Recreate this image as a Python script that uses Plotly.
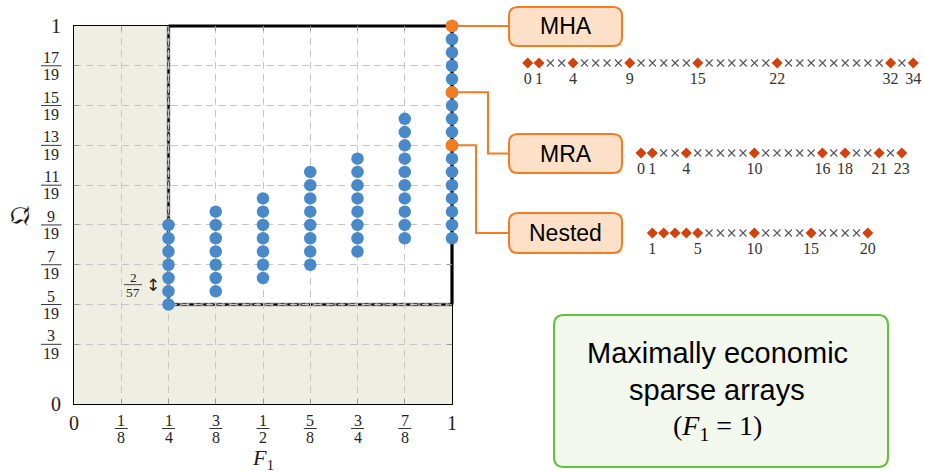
import plotly.graph_objects as go

# ---------------- data ----------------
F1_VALUES = [1/4, 3/8, 1/2, 5/8, 3/4, 7/8, 1]
Q_DEN = 57
# numerators (over 57) of the Q value of every dot in each F1 column
Q_NUMERATORS = [
    [15, 17, 19, 21, 23, 25, 27],
    [17, 19, 21, 23, 25, 27, 29],
    [19, 21, 23, 25, 27, 29, 31],
    [21, 23, 25, 27, 29, 31, 33, 35],
    [23, 25, 27, 29, 31, 33, 35, 37],
    [25, 27, 29, 31, 33, 35, 37, 39, 41, 43],
    [25, 27, 29, 31, 33, 35, 37, 39, 41, 43, 45, 47, 49, 51, 53, 55, 57],
]
HIGHLIGHT_NAMES = ["MHA", "MRA", "Nested"]
HIGHLIGHT_F1 = [1, 1, 1]
HIGHLIGHT_QNUM = [57, 47, 39]

X_TICKS = [0, 1/8, 1/4, 3/8, 1/2, 5/8, 3/4, 7/8, 1]
X_TICK_LABELS = ["0", "1/8", "1/4", "3/8", "1/2", "5/8", "3/4", "7/8", "1"]
Y_TICKS = [0, 3/19, 5/19, 7/19, 9/19, 11/19, 13/19, 15/19, 17/19, 1]
Y_TICK_LABELS = ["0", "3/19", "5/19", "7/19", "9/19", "11/19", "13/19", "15/19", "17/19", "1"]

F1_MIN = 1/4
Q_MIN = 5/19
STEP_LABEL = "2/57"
STEP_LOW, STEP_HIGH = 17/57, 19/57

MHA_LENGTH = 35
MHA_SENSORS = [0, 1, 4, 9, 15, 22, 32, 34]
MHA_LABELS = [0, 1, 4, 9, 15, 22, 32, 34]
MRA_LENGTH = 24
MRA_SENSORS = [0, 1, 4, 10, 16, 18, 21, 23]
MRA_LABELS = [0, 1, 4, 10, 16, 18, 21, 23]
NESTED_START, NESTED_LENGTH = 1, 20
NESTED_SENSORS = [1, 2, 3, 4, 5, 10, 15, 20]
NESTED_LABELS = [1, 5, 10, 15, 20]

# ---------------- layout helpers ----------------
W, H = 925, 472
ML, MR, MT, MB = 74, 5, 26, 68
PW, PH = W - ML - MR, H - MT - MB
XD = 378 / PW  # main x-domain end


def ux(p):
    return (p - ML) / PW


def vy(p):
    return (H - MB - p) / PH


def dx(v):  # main-data x -> paper
    return v * XD


SERIF = "Liberation Serif"
SANS = "Liberation Sans"
BLUE = "#4a89c9"
ORANGE = "#f47b20"
BEIGE = "#efeee3"
INK = "#1e1e1e"
FRAC_SIZE = 16

fig = go.Figure()
shapes = []
ann = []


def add_ann(**kw):
    kw.setdefault("showarrow", False)
    kw.setdefault("xanchor", "center")
    kw.setdefault("yanchor", "middle")
    ann.append(kw)


# backgrounds
shapes.append(dict(type="rect", xref="paper", yref="paper", x0=0, x1=dx(1), y0=0, y1=1,
                   fillcolor=BEIGE, line_width=0, layer="below"))
shapes.append(dict(type="rect", xref="paper", yref="paper", x0=dx(F1_MIN), x1=dx(1), y0=Q_MIN, y1=1,
                   fillcolor="white", line_width=0, layer="below"))
# region outline
for (x0, y0, x1, y1) in [(F1_MIN, Q_MIN, F1_MIN, 1), (F1_MIN, Q_MIN, 1, Q_MIN)]:
    shapes.append(dict(type="line", xref="paper", yref="paper", x0=dx(x0), x1=dx(x1), y0=y0, y1=y1,
                       line=dict(color="#8a8a8a", width=3.5), layer="below"))
    shapes.append(dict(type="line", xref="paper", yref="paper", x0=dx(x0), x1=dx(x1), y0=y0, y1=y1,
                       line=dict(color="black", width=2, dash="4px,3px"), layer="below"))
for (x0, y0, x1, y1) in [(F1_MIN, 1, 1, 1), (1, Q_MIN, 1, 1)]:
    shapes.append(dict(type="line", xref="paper", yref="paper", x0=dx(x0), x1=dx(x1), y0=y0, y1=y1,
                       line=dict(color="black", width=3.2), layer="below"))

# dots
xs, ys = [], []
for f, nums in zip(F1_VALUES, Q_NUMERATORS):
    for n in nums:
        xs.append(f)
        ys.append(n / Q_DEN)
fig.add_trace(go.Scatter(x=xs, y=ys, mode="markers", cliponaxis=False,
                         marker=dict(size=12.5, color=BLUE, line_width=0), hoverinfo="skip"))
fig.add_trace(go.Scatter(x=HIGHLIGHT_F1, y=[n / Q_DEN for n in HIGHLIGHT_QNUM], mode="markers",
                         cliponaxis=False, marker=dict(size=12.5, color=ORANGE, line_width=0),
                         hoverinfo="skip"))

# ---------- tick labels (stacked fractions) ----------
for t, lab in zip(X_TICKS, X_TICK_LABELS):
    if "/" in lab:
        a, b = lab.split("/")
        add_ann(x=t, xref="x", y=vy(420), yref="paper", text=a,
                font=dict(family=SERIF, size=FRAC_SIZE, color=INK))
        add_ann(x=t, xref="x", y=vy(437.5), yref="paper", text=b,
                font=dict(family=SERIF, size=FRAC_SIZE, color=INK))
        shapes.append(dict(type="line", xref="x", xsizemode="pixel", xanchor=t, x0=-6.5, x1=6.5,
                           yref="paper", y0=vy(428.5), y1=vy(428.5), line=dict(color=INK, width=0.9)))
    else:
        add_ann(x=t, xref="x", y=vy(423), yref="paper", text=lab,
                font=dict(family=SERIF, size=20, color=INK))

for t, lab in zip(Y_TICKS, Y_TICK_LABELS):
    if "/" in lab:
        a, b = lab.split("/")
        add_ann(x=ux(51), xref="paper", y=t, yref="y", yshift=8.5, text=a,
                font=dict(family=SERIF, size=FRAC_SIZE, color=INK))
        add_ann(x=ux(51), xref="paper", y=t, yref="y", yshift=-8.7, text=b,
                font=dict(family=SERIF, size=FRAC_SIZE, color=INK))
        shapes.append(dict(type="line", xref="paper", x0=ux(41), x1=ux(61.5), yref="y", y0=t, y1=t,
                           line=dict(color=INK, width=0.9)))
    else:
        add_ann(x=ux(63), xref="paper", y=t, yref="y", text=lab, xanchor="right",
                font=dict(family=SERIF, size=20, color=INK))

# step label 2/57 with arrow
sa, sb = STEP_LABEL.split("/")
ymid = (STEP_LOW + STEP_HIGH) / 2
add_ann(x=F1_MIN, xref="x", xshift=-35.5, y=ymid, yref="y", yshift=6.8, text=sa,
        font=dict(family=SERIF, size=13.5, color=INK))
add_ann(x=F1_MIN, xref="x", xshift=-35.5, y=ymid, yref="y", yshift=-7.5, text=sb,
        font=dict(family=SERIF, size=13.5, color=INK))
shapes.append(dict(type="line", xref="x", xsizemode="pixel", xanchor=F1_MIN, x0=-44.5, x1=-26.5,
                   yref="y", y0=ymid, y1=ymid, line=dict(color=INK, width=0.8)))
add_ann(x=F1_MIN, xref="x", xshift=-15.5, y=ymid, yref="y", text="↕",
        font=dict(family="DejaVu Sans", size=17, color=INK))

# axis titles
add_ann(x=0.5, xref="x", y=vy(459), yref="paper", text="<i>F</i><sub>1</sub>",
        font=dict(family=SERIF, size=22, color=INK))
add_ann(x=ux(19), xref="paper", y=vy(216), yref="paper", text="𝔔", textangle=-90,
        font=dict(family="DejaVu Serif", size=27, color=INK))


# ---------- rounded boxes ----------
def rounded(x0, y0, x1, y1, r):
    X0, X1 = ux(x0), ux(x1)
    Y0, Y1 = vy(y0), vy(y1)  # Y0 top, Y1 bottom
    rx, ry = r / PW, r / PH
    return (f"M {X0+rx},{Y0} L {X1-rx},{Y0} Q {X1},{Y0} {X1},{Y0-ry} "
            f"L {X1},{Y1+ry} Q {X1},{Y1} {X1-rx},{Y1} L {X0+rx},{Y1} "
            f"Q {X0},{Y1} {X0},{Y1+ry} L {X0},{Y0-ry} Q {X0},{Y0} {X0+rx},{Y0} Z")


BOX_PX = {"MHA": (509, 7, 622, 46), "MRA": (509, 134, 622, 173), "Nested": (509, 213, 622, 253)}
ELBOW_X = {"MRA": 488, "Nested": 476}
for name, qn in zip(HIGHLIGHT_NAMES, HIGHLIGHT_QNUM):
    bx0, by0, bx1, by1 = BOX_PX[name]
    cy = (by0 + by1) / 2
    y_dot = qn / Q_DEN
    if name in ELBOW_X:
        ex = ux(ELBOW_X[name])
        path = f"M {dx(1)},{y_dot} L {ex},{y_dot} L {ex},{vy(cy)} L {ux(bx0)},{vy(cy)}"
    else:
        path = f"M {dx(1)},{y_dot} L {ux(bx0)},{y_dot}"
    shapes.append(dict(type="path", xref="paper", yref="paper", path=path,
                       line=dict(color=ORANGE, width=2), layer="below"))
    shapes.append(dict(type="path", xref="paper", yref="paper", path=rounded(bx0, by0, bx1, by1, 9),
                       fillcolor="#fde0c8", line=dict(color=ORANGE, width=2)))
    add_ann(x=ux((bx0 + bx1) / 2), y=vy(cy), xref="paper", yref="paper", text=name,
            font=dict(family=SANS, size=23, color="black"))

# green box
shapes.append(dict(type="path", xref="paper", yref="paper", path=rounded(554, 315, 888, 467, 10),
                   fillcolor="#f2f8ed", line=dict(color="#62c23a", width=2)))
for txt, yy, fam, sz in [("Maximally economic", 353, SANS, 29), ("sparse arrays", 390, SANS, 29),
                         ("(<i>F</i><sub>1</sub>\u00a0=\u00a01)", 427, SERIF, 28)]:
    add_ann(x=ux(717), y=vy(yy), xref="paper", yref="paper", text=txt,
            font=dict(family=fam, size=sz, color="black"))

# ---------- sparse array rows ----------
SPACING = 11.34
ROW_Y = {"MHA": vy(63), "MRA": vy(153), "Nested": vy(233)}
LABEL_Y = {"MHA": vy(80), "MRA": vy(169.5), "Nested": vy(249.5)}
MHA_X0 = 527.7
MRA_X0 = 641.0


def axis_domain(x0px, n_lo, n_hi):
    return [ux(x0px + n_lo * SPACING), ux(x0px + n_hi * SPACING)]


rows = [
    ("MHA", "x2", list(range(MHA_LENGTH)), MHA_SENSORS, MHA_LABELS),
    ("MRA", "x3", list(range(MRA_LENGTH)), MRA_SENSORS, MRA_LABELS),
    ("Nested", "x3", list(range(NESTED_START, NESTED_START + NESTED_LENGTH)), NESTED_SENSORS, NESTED_LABELS),
]
for name, xa, positions, sensors, labels in rows:
    holes = [p for p in positions if p not in sensors]
    yrow = ROW_Y[name]
    fig.add_trace(go.Scatter(x=holes, y=[yrow] * len(holes), xaxis=xa, yaxis="y2", mode="markers",
                             cliponaxis=False, hoverinfo="skip",
                             marker=dict(symbol="x-thin-open", size=7, color="#555",
                                         line=dict(width=1.1, color="#555"))))
    fig.add_trace(go.Scatter(x=sensors, y=[yrow] * len(sensors), xaxis=xa, yaxis="y2",
                             mode="markers", cliponaxis=False, hoverinfo="skip",
                             marker=dict(symbol="diamond", size=8.5, color="#d4420c", line_width=0)))
    fig.add_trace(go.Scatter(x=labels, y=[LABEL_Y[name]] * len(labels), xaxis=xa, yaxis="y2",
                             mode="text", cliponaxis=False, hoverinfo="skip",
                             text=[str(s) for s in labels], textposition="middle center",
                             textfont=dict(family=SERIF, size=16, color="#333")))

axis_common = dict(range=[0, 1], showticklabels=False, showgrid=True, gridcolor="#c6c6c6",
                   griddash="7px,5px", gridwidth=1, zeroline=False, showline=True, linecolor="black",
                   linewidth=1.3, mirror="allticks", ticks="inside", ticklen=5, tickcolor="#999",
                   layer="below traces")
hidden = dict(visible=False, showgrid=False, zeroline=False, fixedrange=True)

fig.update_layout(
    width=W, height=H,
    margin=dict(l=ML, r=MR, t=MT, b=MB),
    paper_bgcolor="white", plot_bgcolor="rgba(0,0,0,0)",
    showlegend=False,
    xaxis=dict(domain=[0, XD], tickvals=X_TICKS, **axis_common),
    yaxis=dict(domain=[0, 1], tickvals=Y_TICKS, **axis_common),
    xaxis2=dict(domain=axis_domain(MHA_X0, -0.6, 34.4), range=[-0.6, 34.4], anchor="y2", **hidden),
    xaxis3=dict(domain=axis_domain(MRA_X0, -0.6, 23.6), range=[-0.6, 23.6], anchor="y2", **hidden),
    yaxis2=dict(domain=[0, 1], range=[0, 1], anchor="x2", **hidden),
    shapes=shapes,
    annotations=ann,
)

fig.write_html("out.html", config={"displayModeBar": False})
